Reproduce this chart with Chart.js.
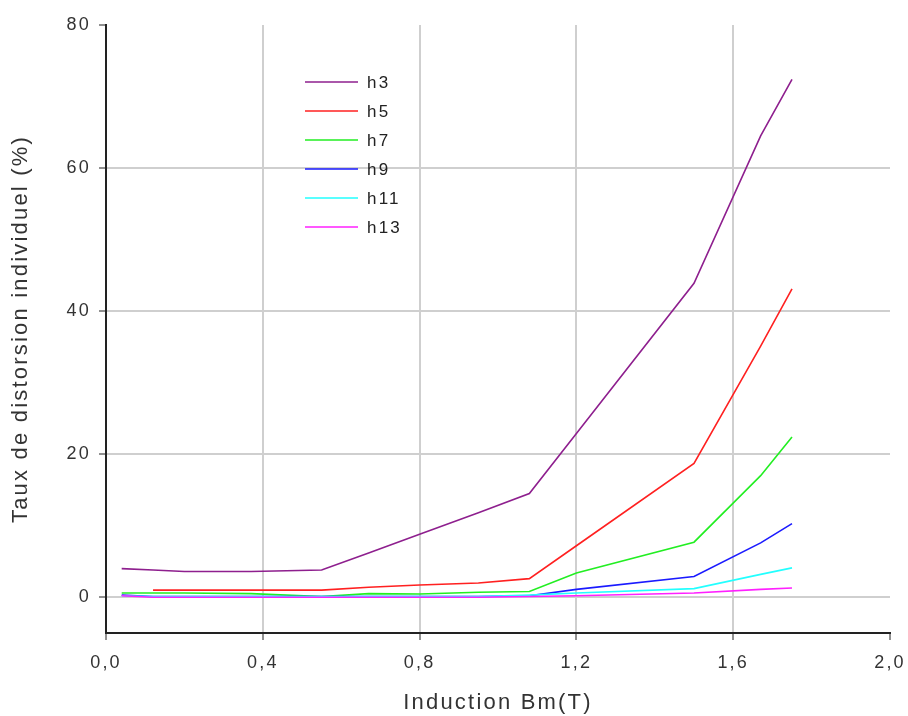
<!DOCTYPE html>
<html lang="fr">
<head>
<meta charset="UTF-8">
<title>Taux de distorsion individuel</title>
<script src="https://cdn.jsdelivr.net/npm/chart.js"></script>
<style>
  html, body { margin: 0; padding: 0; background: #ffffff; }
  #wrap { width: 908px; height: 716px; position: relative; }
</style>
</head>
<body>
<div id="wrap"><canvas id="chart"></canvas></div>
<script>
// Induction Bm (T)
const bm  = [0.04, 0.12, 0.2, 0.37, 0.55, 0.67, 0.8, 0.95, 1.08, 1.2, 1.5, 1.67, 1.75];
// taux de distorsion individuel (%) par harmonique
const h3  = [4.0, 3.8, 3.6, 3.6, 3.8, 6.2, 8.8, 11.8, 14.5, 22.9, 43.9, 64.5, 72.4];
const h5  = [null, 1.0, 1.0, 1.0, 1.0, 1.4, 1.7, 2.0, 2.6, 7.2, 18.7, 35.1, 43.1];
const h7  = [0.6, 0.6, 0.6, 0.5, 0.1, 0.5, 0.45, 0.7, 0.8, 3.4, 7.7, 17.0, 22.4];
const h9  = [0.3, 0.1, 0.1, 0.1, 0.1, 0.1, 0.1, 0.1, 0.2, 1.1, 2.9, 7.6, 10.3];
const h11 = [0.2, 0.1, 0.1, 0.1, 0.1, 0.1, 0.1, 0.1, 0.3, 0.6, 1.2, 3.2, 4.1];
const h13 = [0.2, 0.0, 0.0, 0.0, 0.0, 0.0, 0.0, 0.0, 0.1, 0.2, 0.6, 1.1, 1.3];

const seriesNames = ['h3', 'h5', 'h7', 'h9', 'h11', 'h13'];
const seriesValues = [h3, h5, h7, h9, h11, h13];
const colors = ['#8e1f8e', '#ff2020', '#22ee22', '#1a1aff', '#22ffff', '#ff20ff'];

const xTicks = [0, 0.4, 0.8, 1.2, 1.6, 2.0];
const yTicks = [0, 20, 40, 60, 80];

const FONT = "'Liberation Sans', Arial, sans-serif";
const SPACING = '2.2px';

const datasets = seriesNames.map((name, i) => ({
    label: name,
    data: bm.map((b, j) => ({ x: b, y: seriesValues[i][j] })).filter(p => p.y !== null),
    borderColor: colors[i],
    backgroundColor: colors[i],
    borderWidth: 1.6,
    pointRadius: 0,
    tension: 0,
    fill: false,
    order: seriesNames.length - i
}));

// the original uses a widely spaced font
const letterSpacing = {
    id: 'letterSpacing',
    beforeLayout(chart) { chart.ctx.letterSpacing = SPACING; },
    beforeDraw(chart) { chart.ctx.letterSpacing = SPACING; }
};

// legend drawn inside the plot area, as in the original
const innerLegend = {
    id: 'innerLegend',
    afterDraw(chart) {
        const ctx = chart.ctx;
        ctx.save();
        ctx.font = '17px ' + FONT;
        ctx.textBaseline = 'middle';
        chart.data.datasets.forEach((ds, i) => {
            const y = 82 + i * 29;
            ctx.strokeStyle = ds.borderColor;
            ctx.lineWidth = 1.6;
            ctx.beginPath();
            ctx.moveTo(305, y);
            ctx.lineTo(358, y);
            ctx.stroke();
            ctx.fillStyle = '#222';
            ctx.fillText(ds.label, 367, y + 1);
        });
        ctx.restore();
    }
};

new Chart(document.getElementById('chart'), {
    type: 'line',
    data: { datasets: datasets },
    options: {
        responsive: true,
        maintainAspectRatio: false,
        animation: false,
        layout: { padding: { left: 0, top: 25, right: 18, bottom: 0 } },
        plugins: {
            legend: { display: false },
            tooltip: { enabled: false }
        },
        scales: {
            x: {
                type: 'linear',
                min: 0,
                max: 2,
                afterBuildTicks: s => { s.ticks = xTicks.map(v => ({ value: v })); },
                afterFit: s => { s.height = 83; s.paddingRight = 0; },
                ticks: {
                    color: '#333',
                    font: { family: FONT, size: 18 },
                    padding: 12,
                    maxRotation: 0,
                    callback: v => v.toFixed(1).replace('.', ',')
                },
                grid: {
                    color: c => (c.tick && (c.tick.value === 0 || c.tick.value === 2)) ? 'rgba(0,0,0,0)' : '#cfcfcf',
                    lineWidth: 2,
                    tickColor: '#222',
                    tickLength: 7,
                    tickWidth: 1
                },
                border: { color: '#222', width: 2 },
                title: {
                    display: true,
                    text: 'Induction Bm(T)',
                    color: '#333',
                    font: { family: FONT, size: 22 },
                    padding: { top: 0, bottom: 0 }
                }
            },
            y: {
                type: 'linear',
                min: -5,
                max: 80,
                afterBuildTicks: s => { s.ticks = yTicks.map(v => ({ value: v })); },
                afterFit: s => { s.width = 106; },
                ticks: {
                    color: '#333',
                    font: { family: FONT, size: 18 },
                    padding: 8
                },
                grid: {
                    color: c => (c.tick && c.tick.value === 80) ? 'rgba(0,0,0,0)' : '#cfcfcf',
                    lineWidth: 2,
                    tickColor: '#222',
                    tickLength: 7,
                    tickWidth: 1
                },
                border: { color: '#222', width: 2 },
                title: {
                    display: true,
                    text: 'Taux de distorsion individuel (%)',
                    color: '#333',
                    font: { family: FONT, size: 22 },
                    padding: { top: 8, bottom: 0 }
                }
            }
        }
    },
    plugins: [letterSpacing, innerLegend]
});
</script>
</body>
</html>
